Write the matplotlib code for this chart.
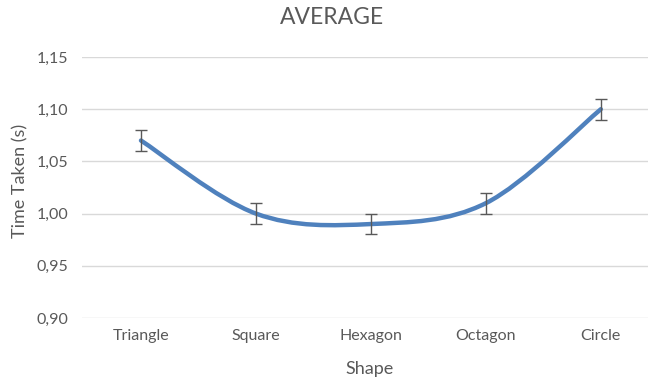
import numpy as np
import matplotlib
matplotlib.use("Agg")
import matplotlib.pyplot as plt
from matplotlib.path import Path
from matplotlib.patches import PathPatch
from matplotlib.ticker import FuncFormatter

shapes = ["Triangle", "Square", "Hexagon", "Octagon", "Circle"]
avg_time = [1.07, 1.00, 0.99, 1.01, 1.10]
err = [0.01, 0.01, 0.01, 0.01, 0.01]
yticks = [0.90, 0.95, 1.00, 1.05, 1.10, 1.15]

plt.rcParams['font.family'] = ['Lato', 'DejaVu Sans']
grey = '#595959'
blue = '#4F81BD'

fig = plt.figure(figsize=(6.48, 3.78), dpi=100)
ax = fig.add_axes([82/648, 1-318/378, 1-82/648, (318-57)/378])

x = np.arange(len(shapes))
y = np.array(avg_time)

## smoothed line (excel style bezier)
px = np.concatenate([[x[0]], x, [x[-1]]])
py = np.concatenate([[y[0]], y, [y[-1]]])
verts = [(x[0], y[0])]
codes = [Path.MOVETO]
for i in range(1, len(px)-2):
    c1 = (px[i] + (px[i+1]-px[i-1])/6, py[i] + (py[i+1]-py[i-1])/6)
    c2 = (px[i+1] - (px[i+2]-px[i])/6, py[i+1] - (py[i+2]-py[i])/6)
    verts += [c1, c2, (px[i+1], py[i+1])]
    codes += [Path.CURVE4]*3
ax.add_patch(PathPatch(Path(verts, codes), fill=False, edgecolor=blue, lw=3.2,
                       capstyle='round', zorder=3))

ax.errorbar(x, y, yerr=err, fmt='none', ecolor=grey, elinewidth=1, capsize=4,
            capthick=1, zorder=4)

ax.set_xlim(-0.513, 4.41)
ax.set_ylim(0.9, 1.15)
ax.set_yticks(yticks)
ax.yaxis.set_major_formatter(FuncFormatter(lambda v, p: ('%.2f' % v).replace('.', ',')))
ax.set_xticks(x)
ax.set_xticklabels(shapes)
ax.grid(axis='y', color='#D9D9D9', lw=1)
ax.set_axisbelow(True)
for s in ax.spines.values():
    s.set_visible(False)
ax.tick_params(length=0, colors=grey, labelsize=11.5)
ax.tick_params(axis='x', pad=8)
ax.tick_params(axis='y', pad=10)

fig.text(370/648, 1-369/378, 'Shape', ha='center', va='center', color=grey, fontsize=13)
fig.text(20/648, 1-181/378, 'Time Taken (s)', ha='center', va='center', rotation=90,
         color=grey, fontsize=13)
fig.text(332/648, 1-17/378, 'AVERAGE', ha='center', va='center', color=grey, fontsize=16.5)

fig.savefig('out.png', dpi=100)
